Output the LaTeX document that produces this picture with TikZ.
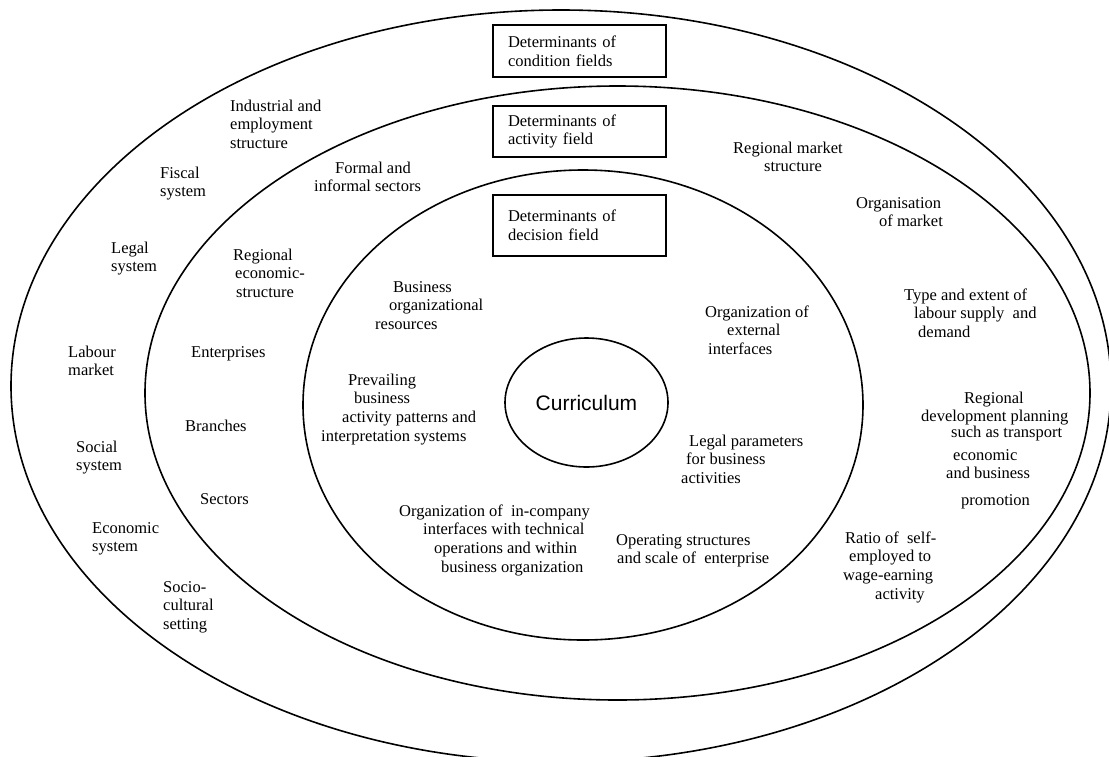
\documentclass[tikz,border=0pt]{standalone}
\usepackage{fontspec}
\setmainfont{Liberation Serif}
\newfontfamily\curfont{Liberation Sans}
\usetikzlibrary{shapes.geometric}
% a block of lines whose baseline is that of its first line
\newcommand{\blk}[1]{\begin{tabular}[t]{@{}l@{}}#1\end{tabular}}
\begin{document}
\begin{tikzpicture}[x=1pt,y=-1pt,
  ring/.style={draw=black, line width=1.6pt},
  lbl/.style={anchor=base west, inner sep=0pt, font=\fontsize{16.5}{18.8}\selectfont},
  detbox/.style={draw=black, line width=1.3pt, rectangle, minimum width=173pt,
    text width=143pt, inner xsep=15pt, inner ysep=0pt, align=left,
    font=\fontsize{16.5}{18.8}\selectfont},
  core/.style={draw=black, line width=1.6pt, ellipse, minimum width=163pt,
    minimum height=129pt, inner sep=0pt, font=\curfont\fontsize{21}{24}\selectfont}]
\useasboundingbox (0,0) rectangle (1109,756);
\clip (0,0) rectangle (1109,756);

% the three fields
\draw[ring] (561,386) ellipse [x radius=550pt, y radius=376pt];
\draw[ring] (617.5,393) ellipse [x radius=472.5pt, y radius=307pt];
\draw[ring] (583,405) ellipse [x radius=280pt, y radius=235pt];

% field headings
\node[detbox, minimum height=52pt] (dcond) at (579.5,51) {Determinants of\\condition fields};
\node[detbox, minimum height=51pt] (dact) at (579.5,131.5) {Determinants of\\activity field};
\node[detbox, minimum height=61pt] (ddec) at (579.5,225.5) {Determinants of\\decision field};

% centre
\node[core] (cur) at (586.5,402.5) {Curriculum};

% condition field
\node[lbl] (indus) at (230,111) {\blk{Industrial and\\employment\\structure}};
\node[lbl] (fiscal) at (160,178) {\blk{Fiscal\\system}};
\node[lbl] (legal) at (111,253) {\blk{Legal\\system}};
\node[lbl] (labour) at (68,357) {\blk{Labour\\market}};
\node[lbl] (social) at (76,452) {\blk{Social\\system}};
\node[lbl] (econ) at (92,533) {\blk{Economic\\system}};
\node[lbl] (socio) at (163,592) {\blk{Socio-\\cultural\\setting}};
\node[lbl] (regdev) at (921,403) {\blk{\hspace*{43pt}Regional\\development planning\\[-3pt]\hspace*{30pt}such as transport}};
\node[lbl] (ecobus) at (946,460) {\blk{\hspace*{7pt}economic\\and business}};
\node[lbl] (promo) at (961,505) {promotion};

% activity field
\node[lbl] (formal) at (314,173) {\blk{\hspace*{21pt}Formal and\\informal sectors}};
\node[lbl] (regecon) at (233,260) {\blk{Regional\\\hspace*{2pt}economic-\\\hspace*{3pt}structure}};
\node[lbl] (enter) at (191,357) {Enterprises};
\node[lbl] (branch) at (185,431) {Branches};
\node[lbl] (sector) at (200,504) {Sectors};
\node[lbl] (regmkt) at (733,153) {\blk{Regional market\\\hspace*{31pt}structure}};
\node[lbl] (orgmkt) at (856,208) {\blk{Organisation\\\hspace*{23pt}of market}};
\node[lbl] (labsup) at (904,300) {\blk{Type and extent of\\\hspace*{10pt}labour supply\ \ and\\\hspace*{14pt}demand}};
\node[lbl] (ratio) at (843,543) {\blk{\hspace*{2pt}Ratio of\ \ self-\\\hspace*{6pt}employed to\\wage-earning\\\hspace*{32pt}activity}};

% decision field
\node[lbl] (bres) at (375,292) {\blk{\hspace*{18pt}Business\\\hspace*{14pt}organizational\\resources}};
\node[lbl] (prev) at (321,385) {\blk{\hspace*{27pt}Prevailing\\\hspace*{33pt}business\\\hspace*{21pt}activity patterns and\\interpretation systems}};
\node[lbl] (inco) at (399,516) {\blk{Organization of\ \ in-company\\\hspace*{24pt}interfaces with technical\\\hspace*{35pt}operations and within\\\hspace*{42pt}business organization}};
\node[lbl] (extint) at (705,317) {\blk{Organization of\\\hspace*{22pt}external\\\hspace*{3pt}interfaces}};
\node[lbl] (legpar) at (681,446) {\blk{\hspace*{8pt}Legal parameters\\\hspace*{5pt}for business\\activities}};
\node[lbl] (oper) at (616,545) {\blk{Operating structures\\\hspace*{1pt}and scale of\ \ enterprise}};
\end{tikzpicture}
\end{document}
